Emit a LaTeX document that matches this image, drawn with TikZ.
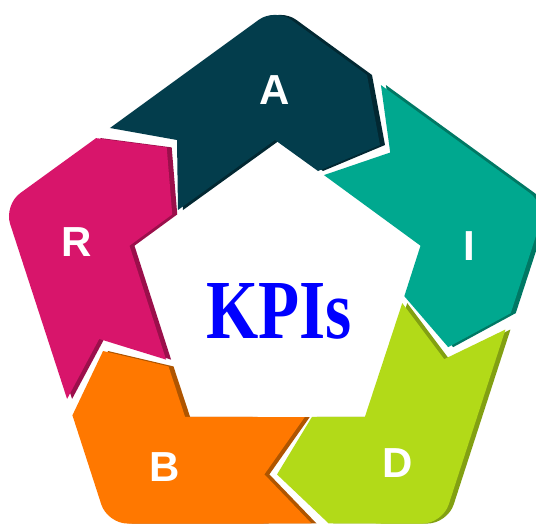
\documentclass[tikz,border=0pt]{standalone}
\usepackage{fontspec}
\usepackage{tikz}
\setmainfont{Liberation Serif}
\setsansfont{Liberation Sans}
\definecolor{Acol}{RGB}{3,61,76}
\definecolor{Adark}{RGB}{2,40,50}
\definecolor{Icol}{RGB}{0,168,143}
\definecolor{Idark}{RGB}{0,120,100}
\definecolor{Dcol}{RGB}{178,218,24}
\definecolor{Ddark}{RGB}{130,160,18}
\definecolor{Bcol}{RGB}{255,120,0}
\definecolor{Bdark}{RGB}{175,85,0}
\definecolor{Rcol}{RGB}{216,21,107}
\definecolor{Rdark}{RGB}{155,15,75}
% one arrow piece, drawn round the top corner
\newcommand{\segshape}{(-165,-165) [rounded corners=20pt] -- (0,-285) [sharp corners] -- (92,-218) -- (105,-148) -- (43,-122) -- (0,-153) -- (-97,-83) -- (-98,-153) -- cycle}

\begin{document}
\begin{tikzpicture}[x=1pt,y=-1pt,
  letter/.style={text=white,font=\sffamily\bfseries\fontsize{42}{42}\selectfont}]
\useasboundingbox (-275,-293) rectangle (261,230);
\fill[white] (-275,-293) rectangle (261,230);
\clip (-275,-293) rectangle (261,230);
\fill[Adark, xshift=5pt] \segshape;
\fill[Acol] \segshape;
\fill[Idark, xshift=5pt, rotate=-72] \segshape;
\fill[Icol, rotate=-72] \segshape;
\fill[Ddark, xshift=5pt, rotate=-144] \segshape;
\fill[Dcol, rotate=-144] \segshape;
\fill[Bdark, xshift=5pt, rotate=-216] \segshape;
\fill[Bcol, rotate=-216] \segshape;
\fill[Rdark, xshift=5pt, rotate=-288] \segshape;
\fill[Rcol, rotate=-288] \segshape;
\node[letter] (A) at (0,-203) {A};
\node[letter] (I) at (194,-47) {I};
\node[letter] (D) at (123,170) {D};
\node[letter] (B) at (-110,174) {B};
\node[letter] (R) at (-198,-51) {R};
\node[text=blue, transform shape, xscale=0.8, font=\bfseries\fontsize{84}{84}\selectfont] (kpi) at (4,18) {KPIs};
\end{tikzpicture}
\end{document}
